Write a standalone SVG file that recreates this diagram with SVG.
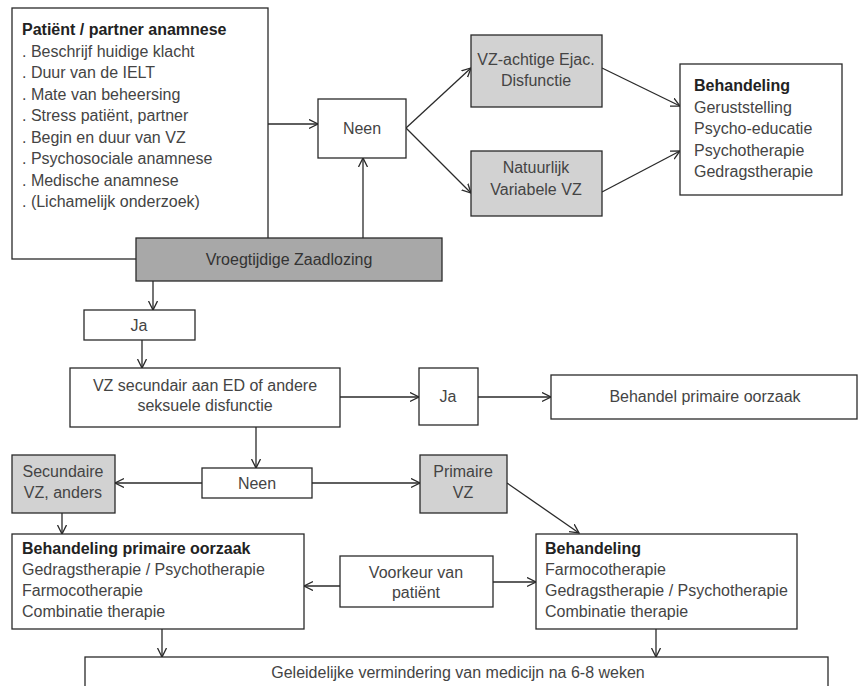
<svg xmlns="http://www.w3.org/2000/svg" width="858" height="686" viewBox="0 0 858 686">
<defs>
<marker id="ah" markerUnits="userSpaceOnUse" markerWidth="12" markerHeight="12" refX="9" refY="5" orient="auto">
<path d="M0,0.5 L9,5 L0,9.5" fill="none" stroke="#2a2a2a" stroke-width="1.3"/>
</marker>
<style>
.box{fill:#fff;stroke:#2a2a2a;stroke-width:1.3}
.lg{fill:#d2d2d2;stroke:#2a2a2a;stroke-width:1.3}
.dg{fill:#a8a8a8;stroke:#2a2a2a;stroke-width:1.3}
text{font-family:"Liberation Sans",Arial,sans-serif;font-size:16px;fill:#444}
.b{font-weight:bold;fill:#222}
.c{text-anchor:middle}
.ln{fill:none;stroke:#2a2a2a;stroke-width:1.3}
.ar{fill:none;stroke:#2a2a2a;stroke-width:1.3;marker-end:url(#ah)}
</style>
</defs>
<rect width="858" height="686" fill="#fff"/>

<g id="connectors">
<path class="ar" d="M268,124 H318"/>
<path class="ar" d="M363,238 V158"/>
<path class="ar" d="M406,128 L471,68"/>
<path class="ar" d="M406,128 L471,193"/>
<path class="ar" d="M602,68 L680,106"/>
<path class="ar" d="M602,192 L680,151"/>
<path class="ar" d="M153,281 V310"/>
<path class="ar" d="M142,340 V368"/>
<path class="ar" d="M340,397 H419"/>
<path class="ar" d="M478,397 H551"/>
<path class="ar" d="M256,427 V468"/>
<path class="ar" d="M202,483 H115"/>
<path class="ar" d="M312,483 H420"/>
<path class="ar" d="M62,513 V534"/>
<path class="ar" d="M507,483 L579,533"/>
<path class="ar" d="M340,586 H304"/>
<path class="ar" d="M493,582 H536"/>
<path class="ar" d="M162,629 V657"/>
<path class="ar" d="M656,629 V657"/>
</g>

<g id="anamnese">
<rect class="box" x="12" y="8" width="256" height="251"/>
<text class="b" x="22" y="35">Patiënt / partner anamnese</text>
<text x="22" y="56.5">. Beschrijf huidige klacht</text>
<text x="22" y="78">. Duur van de IELT</text>
<text x="22" y="99.5">. Mate van beheersing</text>
<text x="22" y="121">. Stress patiënt, partner</text>
<text x="22" y="142.5">. Begin en duur van VZ</text>
<text x="22" y="164">. Psychosociale anamnese</text>
<text x="22" y="185.5">. Medische anamnese</text>
<text x="22" y="207">. (Lichamelijk onderzoek)</text>
</g>

<g id="vz">
<rect class="dg" x="136" y="238" width="306" height="43"/>
<text class="c" x="289" y="265" style="fill:#333">Vroegtijdige Zaadlozing</text>
</g>

<g id="neen1">
<rect class="box" x="318" y="99" width="88" height="59"/>
<text class="c" x="362" y="134">Neen</text>
</g>

<g id="vzachtig">
<rect class="lg" x="471" y="35" width="131" height="72"/>
<text class="c" x="536" y="65">VZ-achtige Ejac.</text>
<text class="c" x="536" y="86">Disfunctie</text>
</g>

<g id="natuurlijk">
<rect class="lg" x="471" y="151" width="131" height="65"/>
<text class="c" x="536" y="173">Natuurlijk</text>
<text class="c" x="536" y="195">Variabele VZ</text>
</g>

<g id="behandeling1">
<rect class="box" x="680" y="64" width="162" height="131"/>
<text class="b" x="694" y="91">Behandeling</text>
<text x="694" y="112.5">Geruststelling</text>
<text x="694" y="134">Psycho-educatie</text>
<text x="694" y="155.5">Psychotherapie</text>
<text x="694" y="177">Gedragstherapie</text>
</g>

<g id="ja1">
<rect class="box" x="84" y="310" width="111" height="30"/>
<text class="c" x="139" y="331">Ja</text>
</g>

<g id="secundair">
<rect class="box" x="70" y="368" width="270" height="59"/>
<text class="c" x="205" y="391">VZ secundair aan ED of andere</text>
<text class="c" x="205" y="411">seksuele disfunctie</text>
</g>

<g id="ja2">
<rect class="box" x="419" y="368" width="59" height="57"/>
<text class="c" x="448" y="402">Ja</text>
</g>

<g id="behandelprimair">
<rect class="box" x="551" y="375" width="306" height="44"/>
<text class="c" x="705" y="402">Behandel primaire oorzaak</text>
</g>

<g id="neen2">
<rect class="box" x="202" y="468" width="110" height="30"/>
<text class="c" x="257" y="489">Neen</text>
</g>

<g id="secundaireanders">
<rect class="lg" x="12" y="455" width="103" height="58"/>
<text class="c" x="63" y="477">Secundaire</text>
<text class="c" x="63" y="498">VZ, anders</text>
</g>

<g id="primairevz">
<rect class="lg" x="420" y="455" width="87" height="58"/>
<text class="c" x="463" y="477">Primaire</text>
<text class="c" x="463" y="498">VZ</text>
</g>

<g id="behandelingprimaireoorzaak">
<rect class="box" x="12" y="534" width="292" height="95"/>
<text class="b" x="22" y="554">Behandeling primaire oorzaak</text>
<text x="22" y="575">Gedragstherapie / Psychotherapie</text>
<text x="22" y="596">Farmocotherapie</text>
<text x="22" y="617">Combinatie therapie</text>
</g>

<g id="voorkeur">
<rect class="box" x="340" y="556" width="153" height="51"/>
<text class="c" x="416" y="578">Voorkeur van</text>
<text class="c" x="416" y="598">patiënt</text>
</g>

<g id="behandeling2">
<rect class="box" x="536" y="534" width="261" height="95"/>
<text class="b" x="545" y="554">Behandeling</text>
<text x="545" y="575">Farmocotherapie</text>
<text x="545" y="596">Gedragstherapie / Psychotherapie</text>
<text x="545" y="617">Combinatie therapie</text>
</g>

<g id="geleidelijk">
<rect class="box" x="85" y="657" width="743" height="45"/>
<text class="c" x="458" y="678">Geleidelijke vermindering van medicijn na 6-8 weken</text>
</g>
</svg>
